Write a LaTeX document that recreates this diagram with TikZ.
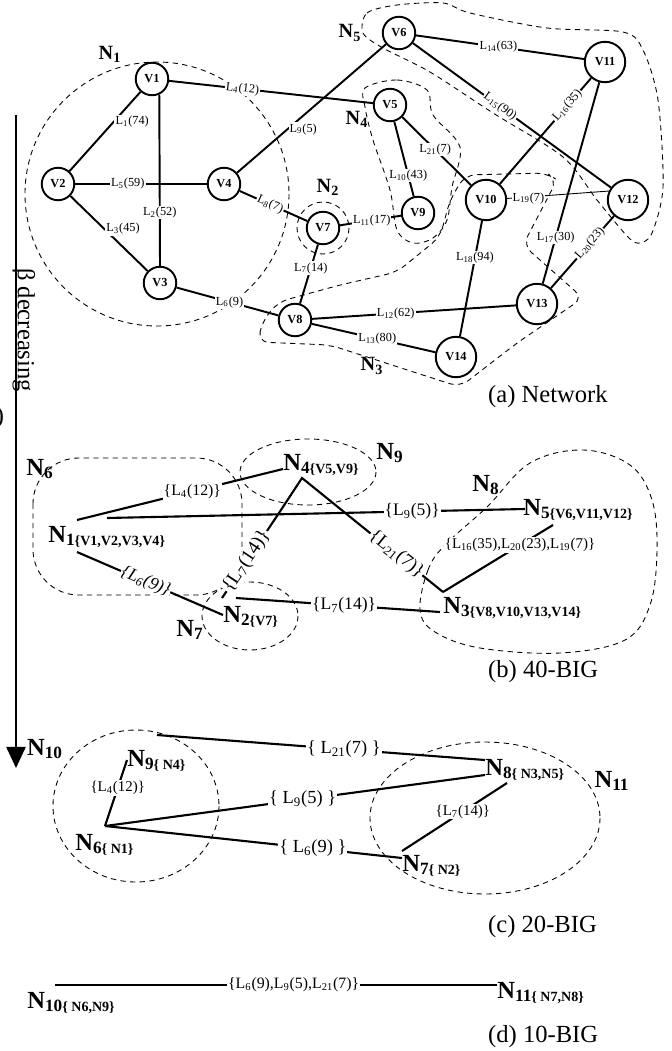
\documentclass[tikz,border=0pt]{standalone}
\usepackage{fontspec}
\setmainfont{Liberation Serif}
\usetikzlibrary{arrows.meta}

\newcommand{\lnk}[2]{L\textsubscript{#1}(#2)}
\newcommand{\gname}[1]{N\textsubscript{#1}}
\newcommand{\cname}[2]{N\textsubscript{#1{\fontsize{8}{8}\selectfont\{#2\}}}}

\begin{document}
\begin{tikzpicture}[x=0.02cm, y=-0.02cm,
  vtx/.style={circle, draw, line width=1.1pt, inner sep=0pt, minimum size=18.5pt, font=\fontsize{7}{7}\selectfont\bfseries},
  bigvtx/.style={vtx, minimum size=23pt},
  link/.style={line width=1.1pt},
  lab/.style={fill=white, inner sep=0.6pt, font=\fontsize{7}{8}\selectfont},
  group/.style={line width=0.5pt, dash pattern=on 3pt off 2.5pt},
  gtag/.style={font=\fontsize{11.5}{12}\selectfont\bfseries},
  btag/.style={font=\fontsize{14}{14}\selectfont\bfseries},
  bset/.style={btag, anchor=base west, inner sep=0pt},
  blink/.style={line width=1.2pt},
  blab/.style={fill=white, inner sep=0.6pt, font=\fontsize{10}{10}\selectfont},
  slab/.style={blab, font=\fontsize{8.5}{9}\selectfont},
  caption/.style={anchor=west, font=\fontsize{14}{14}\selectfont}]
  \useasboundingbox (0,0) rectangle (672,1051);

  \draw[group] (157,194) circle [radius=132];
  \draw[group] (323,228) circle [radius=26];
  \draw[group] plot[smooth cycle, tension=.55] coordinates {(365,88) (397,80) (427,90) (433,115) (460,147) (452,187) (447,220) (433,238) (413,243) (397,230) (390,190) (373,140) (365,107)};
  \draw[group] plot[smooth cycle, tension=.5] coordinates {(363,33) (367,13) (397,5) (443,3) (470,13) (547,28) (623,32) (643,50) (658,100) (663,187) (652,233) (640,243) (628,237) (597,200) (563,157) (493,113) (430,72) (383,48)};
  \draw[group, rounded corners=6pt] (258,342) -- (262,322) -- (278,302) -- (340,285) -- (397,272) -- (440,237) -- (450,200) -- (465,175) -- (547,173) -- (557,180) -- (523,245) -- (583,298) -- (517,343) -- (460,387) -- (330,345) -- cycle;

  \node[vtx] (v1) at (152,79) {V1};
  \node[vtx] (v2) at (58,184) {V2};
  \node[vtx] (v3) at (160,283) {V3};
  \node[vtx] (v4) at (224,184) {V4};
  \node[vtx] (v5) at (390,105) {V5};
  \node[vtx] (v6) at (399,33) {V6};
  \node[vtx] (v7) at (323,228) {V7};
  \node[vtx] (v8) at (295,320) {V8};
  \node[vtx] (v9) at (418,213) {V9};
  \node[bigvtx] (v10) at (486,200) {V10};
  \node[bigvtx] (v11) at (605,62) {V11};
  \node[bigvtx] (v12) at (628,200) {V12};
  \node[bigvtx] (v13) at (537,304) {V13};
  \node[bigvtx] (v14) at (456,357) {V14};

  \draw[link] (v2) -- node[lab, anchor=west, pos=.62] {\lnk{1}{74}} (v1);
  \draw[link] (v1.-65) -- node[lab, pos=.69] {\lnk{2}{52}} (v3.north);
  \draw[link] (v2) -- node[lab, anchor=west, pos=.44] {\lnk{3}{45}} (v3);
  \draw[link] (v1) -- node[lab, sloped, pos=.36] {\lnk{4}{12}} (v5);
  \draw[link] (v2) -- node[lab, pos=.40] {\lnk{5}{59}} (v4);
  \draw[link] (v3) -- node[lab, pos=.52] {\lnk{6}{9}} (v8);
  \draw[link] (v7) -- node[lab, pos=.4] {\lnk{7}{14}} (v8);
  \draw[link] (v4) -- node[lab, sloped, pos=.45] {\lnk{8}{7}} (v7);
  \draw[link] (v4) -- node[lab, anchor=west, pos=.34] {\lnk{9}{5}} (v6);
  \draw[link] (v5) -- node[lab, pos=.72] {\lnk{10}{43}} (v9);
  \draw[link] (v7) -- node[lab, pos=.52] {\lnk{11}{17}} (v9);
  \draw[link] (v8) -- node[lab, pos=.41] {\lnk{12}{62}} (v13);
  \draw[link] (v8) -- node[lab, pos=.53] {\lnk{13}{80}} (v14);
  \draw[link] (v6) -- node[lab, pos=.49] {\lnk{14}{63}} (v11);
  \draw[link] (v6) -- node[lab, sloped, pos=.44] {\lnk{15}{90}} (v12);
  \draw[link] (v10) -- node[lab, sloped, pos=.74] {\lnk{16}{35}} (v11);
  \draw[link] (v11) -- node[lab, pos=.77] {\lnk{17}{30}} (v13);
  \draw[link] (v10) -- node[lab, pos=.32] {\lnk{18}{94}} (v14);
  \draw[line width=0.5pt] (v10) -- node[lab, anchor=west, pos=.04] {\lnk{19}{7}} (v12.155);
  \draw[link] (v13) -- node[lab, sloped, pos=.62] {\lnk{20}{23}} (v12);
  \draw[link] (v5) -- node[lab, pos=.48] {\lnk{21}{7}} (v10);

  \node[gtag] (n1) at (110,54) {\gname{1}};
  \node[gtag] (n2) at (328,187) {\gname{2}};
  \node[gtag] (n3) at (372,366) {\gname{3}};
  \node[gtag] (n4) at (357,119) {\gname{4}};
  \node[gtag] (n5) at (350,33) {\gname{5}};
  \node[caption] (capa) at (482,397) {(a) Network};

  \draw[group, rounded corners=26pt] (33,458) rectangle (242,595);
  \draw[group] (308,472) ellipse [x radius=68, y radius=33];
  \draw[group] (250,616) ellipse [x radius=48, y radius=34];
  \draw[group] plot[smooth cycle, tension=.6] coordinates {(420,610) (428,570) (445,545) (487,507) (530,463) (583,450) (630,465) (652,500) (657,550) (650,605) (625,640) (560,653) (480,648) (435,632)};

  \node[bset] (b1) at (48,542) {\cname{1}{V1,V2,V3,V4}};
  \node[bset] (b2) at (223,622) {\cname{2}{V7}};
  \node[bset] (b3) at (443,613) {\cname{3}{V8,V10,V13,V14}};
  \node[bset] (b4) at (283,470) {\cname{4}{V5,V9}};
  \node[bset] (b5) at (523,515) {\cname{5}{V6,V11,V12}};
  \node[btag] (n6) at (40,469) {\gname{6}};
  \node[btag] (n7) at (190,630) {\gname{7}};
  \node[btag] (n8) at (486,485) {\gname{8}};
  \node[btag] (n9) at (390,453) {\gname{9}};

  \coordinate (b1a) at (77,520);
  \coordinate (b1b) at (107,518);
  \coordinate (b1c) at (77,552);
  \coordinate (b4a) at (283,469);
  \coordinate (b4b) at (302,478);
  \coordinate (bk) at (277,516);
  \coordinate (b5a) at (525,509);
  \coordinate (b5b) at (553,525);
  \coordinate (b3a) at (443,592);
  \coordinate (b3b) at (440,612);
  \coordinate (b2a) at (236,598);
  \coordinate (b2b) at (222,598);
  \coordinate (b2c) at (223,615);

  \draw[blink] (b1a) -- node[blab, pos=.56, font=\fontsize{9}{9}\selectfont] {\{\lnk{4}{12}\}} (b4a);
  \draw[blink] (b1b) -- node[blab, pos=.73] {\{\lnk{9}{5}\}} (b5a);
  \draw[blink] (b1c) -- node[blab, sloped, pos=.47, font=\fontsize{10}{10}\selectfont\itshape] {\{\lnk{6}{9}\}} (b2c);
  \draw[blink] (b2b) -- node[blab, sloped, pos=.45, font=\fontsize{11}{11}\selectfont] {\{\lnk{7}{14}\}} (bk) -- (b4b) -- node[blab, sloped, pos=.67, font=\fontsize{10.5}{11}\selectfont] {\{\lnk{21}{7}\}} (b3a);
  \draw[blink] (b2a) -- node[blab, pos=.53] {\{\lnk{7}{14}\}} (b3b);
  \draw[blink] (b3a) -- node[slab, pos=.7] {\{\lnk{16}{35},\lnk{20}{23},\lnk{19}{7}\}} (b5b);
  \node[caption] (capb) at (482,672) {(b) 40-BIG};

  \draw[group] (136,806) ellipse [x radius=83, y radius=76];
  \draw[group] (485,818) ellipse [x radius=115, y radius=76];

  \node[bset] (c9) at (127,766) {\cname{9}{ N4}};
  \node[bset] (c6) at (75,850) {\cname{6}{ N1}};
  \node[bset] (c8) at (485,775) {\cname{8}{ N3,N5}};
  \node[bset] (c7) at (402,871) {\cname{7}{ N2}};
  \node[btag] (n10) at (45,749) {\gname{10}};
  \node[btag] (n11) at (612,781) {\gname{11}};

  \coordinate (cj) at (105,826);
  \coordinate (c9a) at (127,760);
  \coordinate (c9b) at (157,735);
  \coordinate (c8a) at (485,760);
  \coordinate (c8b) at (485,775);
  \coordinate (c8c) at (507,783);
  \coordinate (c7a) at (402,858);
  \coordinate (c7b) at (402,851);

  \draw[blink] (cj) -- node[slab, pos=.58] {\{\lnk{4}{12}\}} (c9a);
  \draw[blink] (c9b) -- node[blab, pos=.57, font=\fontsize{10.5}{11}\selectfont] {\{ \lnk{21}{7} \}} (c8a);
  \draw[blink] (cj) -- node[blab, pos=.52, font=\fontsize{10.5}{11}\selectfont] {\{ \lnk{9}{5} \}} (c8b);
  \draw[blink] (cj) -- node[blab, pos=.70, font=\fontsize{10.5}{11}\selectfont] {\{ \lnk{6}{9} \}} (c7a);
  \draw[blink] (c8c) -- node[slab, pos=.42] {\{\lnk{7}{14}\}} (c7b);
  \node[caption] (capc) at (482,927) {(c) 20-BIG};

  \node[bset] (d10) at (27,1008) {\cname{10}{ N6,N9}};
  \node[bset] (d11) at (497,998) {\cname{11}{ N7,N8}};
  \coordinate (d10a) at (55,985);
  \coordinate (d11a) at (497,985);
  \draw[blink] (d10a) -- node[blab, pos=.54, font=\fontsize{9}{9}\selectfont] {\{\lnk{6}{9},\lnk{9}{5},\lnk{21}{7}\}} (d11a);
  \node[caption] (capd) at (482,1037) {(d) 10-BIG};

  \coordinate (atop) at (16,115);
  \coordinate (abot) at (16,768);
  \draw[line width=0.8pt, -{Triangle[width=11pt, length=12pt]}] (atop) -- (abot);
  \node[rotate=-90, font=\fontsize{14}{14}\selectfont] (beta) at (24,330) {β decreasing};
  \node[font=\fontsize{14}{14}\selectfont] (frag) at (0,418) {)};
\end{tikzpicture}
\end{document}
